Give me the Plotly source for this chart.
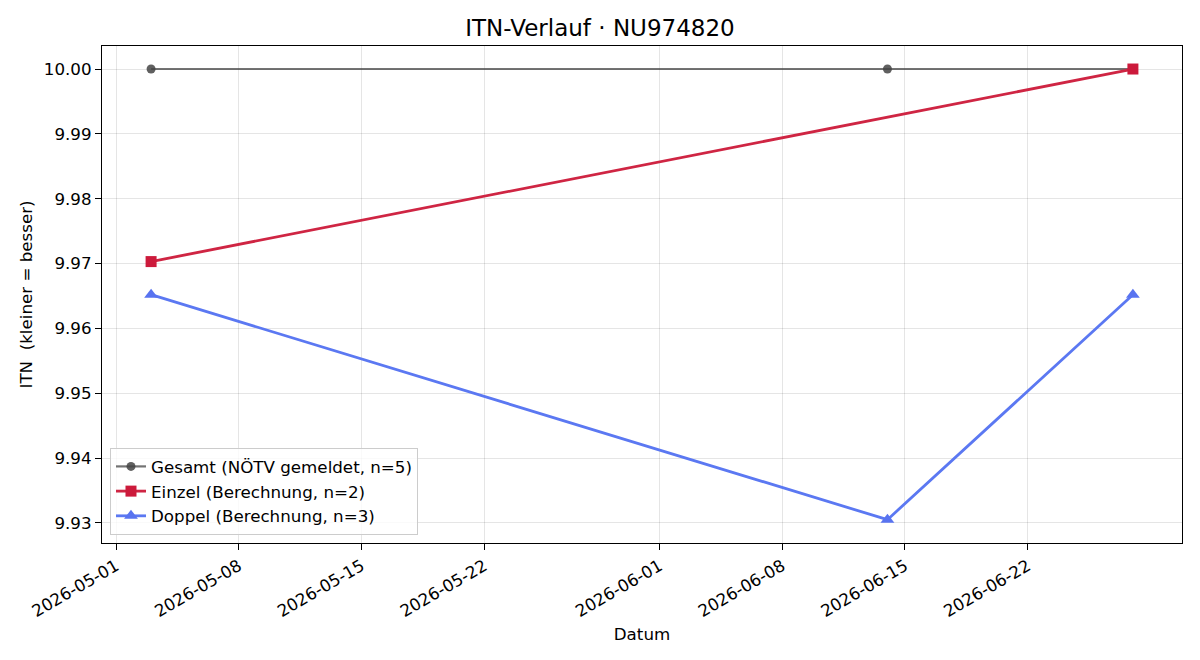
import plotly.graph_objects as go

# Data
gesamt_dates = ["2026-05-03", "2026-06-14", "2026-06-28"]
gesamt_vals = [10.00, 10.00, 10.00]

einzel_dates = ["2026-05-03", "2026-06-28"]
einzel_vals = [9.9703, 10.00]

doppel_dates = ["2026-05-03", "2026-06-14", "2026-06-28"]
doppel_vals = [9.9652, 9.9305, 9.9652]

x_ticks = ["2026-05-01", "2026-05-08", "2026-05-15", "2026-05-22",
           "2026-06-01", "2026-06-08", "2026-06-15", "2026-06-22"]
y_ticks = [9.93, 9.94, 9.95, 9.96, 9.97, 9.98, 9.99, 10.00]

FONT = "DejaVu Sans"
FS = 16.7

fig = go.Figure()
fig.add_trace(go.Scatter(
    x=gesamt_dates, y=gesamt_vals, mode="lines+markers",
    name="Gesamt (NÖTV gemeldet, n=5)",
    line=dict(color="rgba(68,68,68,0.75)", width=2.2),
    marker=dict(symbol="circle", size=9, color="rgba(68,68,68,0.85)"),
))
fig.add_trace(go.Scatter(
    x=einzel_dates, y=einzel_vals, mode="lines+markers",
    name="Einzel (Berechnung, n=2)",
    line=dict(color="#cf2543", width=2.8),
    marker=dict(symbol="square", size=11, color="#cc1a3b"),
))
fig.add_trace(go.Scatter(
    x=doppel_dates, y=doppel_vals, mode="lines+markers",
    name="Doppel (Berechnung, n=3)",
    line=dict(color="#5b78f2", width=2.8),
    marker=dict(symbol="triangle-up", size=12, color="#5873f0"),
))

fig.update_layout(
    width=1200, height=660,
    margin=dict(l=102, r=18, t=46, b=117),
    paper_bgcolor="white", plot_bgcolor="white",
    font=dict(family=FONT, size=FS, color="black"),
    title=dict(text="ITN-Verlauf · NU974820", x=0.5, xanchor="center",
               y=1 - 28 / 660, yanchor="middle",
               font=dict(family=FONT, size=23, color="black")),
    showlegend=True,
    legend=dict(x=0.0074, y=0.016, xanchor="left", yanchor="bottom",
                bgcolor="rgba(255,255,255,0.8)", bordercolor="#cccccc",
                borderwidth=1, font=dict(family=FONT, size=FS),
                tracegroupgap=0),
)

fig.update_xaxes(
    type="date",
    range=["2026-04-30 04:48", "2026-06-30 19:12"],
    tickmode="array", tickvals=x_ticks, ticktext=x_ticks,
    tickangle=-30, ticks="outside", ticklen=6, tickwidth=1, tickcolor="black",
    showline=True, linecolor="black", linewidth=1.2, mirror=True,
    showgrid=True, gridcolor="rgba(0,0,0,0.1)", gridwidth=1,
    zeroline=False,
    title=dict(text="Datum", font=dict(family=FONT, size=FS), standoff=8),
    tickfont=dict(family=FONT, size=FS),
)
fig.update_yaxes(
    range=[9.92690, 10.00355],
    tickmode="array", tickvals=y_ticks,
    ticktext=[f"{v:.2f}" for v in y_ticks],
    ticks="outside", ticklen=6, tickwidth=1, tickcolor="black",
    showline=True, linecolor="black", linewidth=1.2, mirror=True,
    showgrid=True, gridcolor="rgba(0,0,0,0.1)", gridwidth=1,
    zeroline=False,
    title=dict(text="ITN\u00a0 (kleiner = besser)", font=dict(family=FONT, size=FS), standoff=6),
    tickfont=dict(family=FONT, size=FS),
)

fig.write_html("out.html")
